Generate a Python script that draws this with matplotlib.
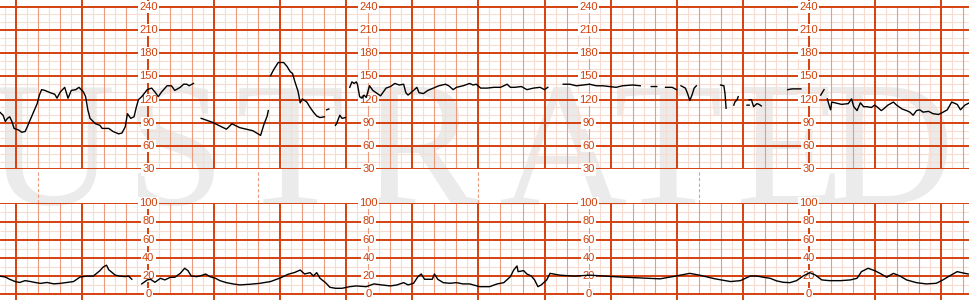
import numpy as np
import matplotlib
matplotlib.use("Agg")
import matplotlib.pyplot as plt

nan = np.nan

# fetal heart rate trace (time in s, bpm) - nan marks signal loss
fhr_time = [45, 48, 50, 52, 54, 56, 58, 62, 65, 68, 70, 72, 75, 77, 79, 81, 83, 86, 91, 95,
            97, 100, 104, 107, 110, 114, 117, 121, 123, 125, 127, 132, 136, 138, 144, 148, 153, 156, 159, 161,
            164, 167, 169, 171, 174, 179, 183, 186, 189, 192, 197, 201, 204, 209, 212, 215, 217, 221, nan,
            228, 238, 251, 256, 263, 275, 282, 285, 288, 289, nan,
            291, 294, 298, 303, 306, 309, 311, 313, 316, 318, 320, 324, 327, 330, 333, 336, 340, nan,
            342, 344, nan,
            350, 351, 354, 356, 359, nan,
            363, 365, 367, 369, 370, 372, 374, 376, 378, 381, 384, 388, 391, 396, 400, 404, 408, 412, 414, 416,
            421, 424, 426, 430, 434, 439, 444, 450, 453, 457, 460, 466, 472, 475, 478, 482, 488, 494, 500, 506,
            509, 513, 519, 524, 530, 536, 540, 543, nan,
            557, 563, 569, 575, 581, 587, 593, 599, 605, 611, 620, 627, nan,
            637, 642, nan,
            650, 656, 660, nan,
            664, 668, 670, 672, 674, 676, 678, nan,
            700, 703, 704, 705, nan,
            712, 713, 715, 716, nan,
            724, 726, nan,
            726, 728, 730, 733, 735, 737, nan,
            761, 765, 769, 773, nan,
            791, 794, nan,
            797, 799, 800, 801, 804, 810, 816, 819, 821, 824, 827, 830, 833, 837, 840, 842, 846, 848, 852, 857,
            860, 865, 869, 872, 875, 878, 881, 884, 889, 893, 898, 901, 906, 910, 915, 918, 922, 926]
fhr_bpm = [104, 100, 92, 96, 98, 92, 83, 81, 78, 79, 85, 92, 102, 109, 115, 126, 133, 132, 129, 127,
           122, 130, 136, 122, 132, 133, 136, 130, 124, 107, 96, 89, 87, 83, 83, 79, 76, 77, 85, 102,
           96, 98, 110, 120, 124, 133, 135, 130, 124, 130, 138, 138, 132, 136, 140, 140, 138, 141, nan,
           96, 91, 82, 89, 84, 80, 74, 88, 99, 106, nan,
           151, 159, 168, 168, 163, 156, 154, 144, 131, 116, 121, 117, 110, 104, 99, 97, 98, nan,
           107, 108, nan,
           87, 89, 100, 96, 97, nan,
           136, 143, 141, 143, 140, 124, 122, 126, 123, 138, 132, 128, 125, 135, 137, 141, 139, 140, 129, 126,
           132, 136, 129, 128, 132, 135, 138, 140, 138, 133, 136, 138, 141, 139, 140, 135, 135, 136, 136, 140,
           136, 136, 137, 133, 135, 136, 133, 136, nan,
           140, 140, 138, 139, 140, 138, 138, 137, 136, 138, 139, 138, nan,
           137, 137, nan,
           136, 136, 133, nan,
           138, 135, 128, 119, 126, 135, 138, nan,
           139, 138, 128, 109, nan,
           113, 117, 120, 124, nan,
           113, 113, nan,
           120, 120, 111, 115, 114, 112, nan,
           133, 134, 134, 134, nan,
           126, 133, nan,
           121, 111, 107, 117, 116, 114, 115, 121, 111, 106, 116, 111, 111, 110, 113, 111, 106, 108, 113, 117,
           113, 108, 106, 104, 100, 106, 107, 104, 105, 102, 101, 103, 107, 117, 114, 107, 113, 116]

# uterine activity (toco) trace
toco_time = [45, 50, 54, 59, 63, 68, 73, 77, 82, 88, 94, 100, 106, 112, 118, 124, 130, 133, 136, 139,
             142, 144, 147, 150, 154, 159, 162, 165, nan,
             174, 179, 182, 186, 191, 195, 200, 204, 209, 213, 216, 219, 224, 229, 232, 236, 241, 245, 251, 257,
             263, 272, 281, 291, 300, 307, 313, 318, 322, 327, 330, 333, 336, 341, 345, 350, 356, 363, 369, 378,
             385, 392, 400, 406, 412, 416, 421, 425, 428, 431, 438, 440, 443, 448, 454, 460, 466, 472, 481, 490,
             497, 503, 509, 512, 515, 516, 521, 524, 528, 531, 534, 537, 542, 545,
             554, 567, 581, 595, 609, 627, 645, 659, 672, 681, 695, 709, 718,
             727, 733, 739, 745, 751, 757, 763, 769, 775, 781, 786, 792, 799, 809, 818, 824, 828, 834, 840, 846,
             851, 857, 863, 869, 878, 887, 896, 902, 908, 915, 919, 925]
toco_val = [20, 19, 16.5, 14, 13, 15, 14, 13, 12, 13, 11.5, 12, 13, 14, 19, 20, 20, 23, 26, 30,
            32, 27, 24, 21, 20, 19.5, 20, 16.5, nan,
            11.4, 15.8, 16.5, 13.2, 17.6, 15.8, 18.7, 18.7, 23, 28.6, 26, 20.1, 19.4, 20.9, 22.3, 19.4, 17.6, 15, 12.8, 11.4,
            10.3, 11, 12, 14, 18, 22, 24, 26.7, 22.3, 23.8, 20.1, 23.8, 17.6, 12.8, 7.7, 6.6, 6.6, 8.4, 9.2, 8.4,
            11.4, 10.3, 9.2, 10.3, 12.8, 10.3, 12.1, 19.4, 22.3, 16.5, 16.5, 22.3, 16.5, 12.8, 12.1, 12.8, 11.4, 11.4, 8.4, 8.4,
            11.4, 12.8, 19.4, 26.7, 31.1, 24.9, 26, 22.3, 20.1, 15.8, 8.4, 10.3, 15.8, 23,
            21, 20, 21, 20, 19, 18, 17, 20, 23, 21, 17, 14, 15,
            20.1, 20.1, 18.7, 17.6, 14.7, 13.2, 12.8, 15, 20.1, 23.8, 21.2, 15.8, 15, 15, 15.8, 17.6, 24.9, 28.6, 26, 22.3,
            18.7, 23, 20.1, 15.8, 12.8, 11.4, 12.1, 15.8, 20.1, 24.9, 23.8, 22.3]

fhr_labels = [240, 210, 180, 150, 120, 90, 60, 30]
toco_labels = [100, 80, 60, 40, 20, 0]
label_times = [180, 380, 580, 780]
marker_times = [80, 280, 480, 680]
watermark = "USTRATED"
watermark_x = [50, 175, 290, 420, 562, 668, 790, 890]

DARK = "#d5400e"
MID = "#ec9b7e"
LIGHT = "#f7dcd2"
LABEL = "#d0400c"

W, H = 969, 300
T0, T1 = 45.2, 45.2 + W * 0.9087

fig = plt.figure(figsize=(W / 100, H / 100), dpi=100)

# watermark layer, under the grid
wm = fig.add_axes([0, 0, 1, 1], zorder=0)
wm.set_xlim(0, W)
wm.set_ylim(H, 0)
wm.axis("off")
for ch, x in zip(watermark, watermark_x):
    wm.text(x, 204, ch, ha="center", va="baseline", fontsize=128, family="Liberation Serif",
            color="#ebebeb")


def make_ax(top, bot, ylim, z):
    ax = fig.add_axes([0, 1 - bot / H, 1, (bot - top) / H], zorder=z)
    ax.set_xlim(T0, T1)
    ax.set_ylim(*ylim)
    ax.axis("off")
    ax.patch.set_alpha(0)
    return ax


fhr_ylim = (30, 240 + 6.7 / 0.7752)
toco_ylim = (100 - 96.7 / 0.91, 100)

fhr_bg = make_ax(0, 169.5, fhr_ylim, 1)
toco_bg = make_ax(203.3, 300, toco_ylim, 1)
gap = make_ax(169.5, 203.3, (0, 1), 1)

ticks = np.arange(50, 930, 10)
major_t = [t for t in ticks if (t - 60) % 60 == 0]
mid_t = [t for t in ticks if (t - 60) % 60 in (20, 40)]
light_t = [t for t in ticks if (t - 60) % 20 == 10]

# fhr grid
fhr_bg.vlines(light_t, 30, 240, color=LIGHT, lw=0.8)
fhr_bg.hlines([v for v in range(40, 240, 10) if v % 30], T0, T1, color=LIGHT, lw=0.8)
fhr_bg.vlines(mid_t, 30, 240, color=MID, lw=0.8)
fhr_bg.hlines(fhr_labels, T0, T1, color=DARK, lw=1.4)
fhr_bg.vlines(major_t, 30, fhr_ylim[1], color=DARK, lw=1.4)

# toco grid
toco_bg.vlines(light_t, 0, 100, color=LIGHT, lw=0.8)
toco_bg.hlines([10, 30, 50, 70, 90], T0, T1, color=LIGHT, lw=0.8)
toco_bg.vlines(mid_t, 0, 100, color=MID, lw=0.8)
toco_bg.hlines(toco_labels, T0, T1, color=DARK, lw=1.4)
toco_bg.vlines(major_t, toco_ylim[0], 100, color=DARK, lw=1.4)

gap.vlines(marker_times, 0, 1, color=MID, lw=0.8, linestyles=(0, (3, 2)))

for lt in label_times:
    for v in fhr_labels:
        fhr_bg.text(lt, v, str(v), ha="center", va="center", color=LABEL, fontsize=8,
                    family="Liberation Sans", clip_on=False,
                    bbox=dict(boxstyle="square,pad=0.1", fc="white", ec="none"))
    for v in toco_labels:
        toco_bg.text(lt, v, str(v), ha="center", va="center", color=LABEL, fontsize=8,
                     family="Liberation Sans", clip_on=False,
                     bbox=dict(boxstyle="square,pad=0.1", fc="white", ec="none"))

# traces on top
fhr = make_ax(0, 169.5, fhr_ylim, 2)
toco = make_ax(203.3, 300, toco_ylim, 2)
fhr.plot(fhr_time, fhr_bpm, color="black", lw=1.0)
toco.plot(toco_time, toco_val, color="black", lw=1.0)

fig.savefig("out.png", dpi=100, facecolor="white")
